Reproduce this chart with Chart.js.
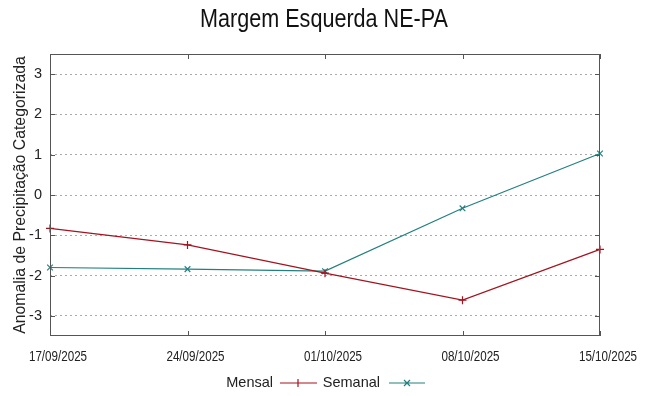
<!DOCTYPE html>
<html lang="pt">
<head>
  <meta charset="UTF-8" />
  <title>Margem Esquerda NE-PA</title>
  <script src="https://cdn.jsdelivr.net/npm/chart.js"></script>
  <style>
    body { margin: 0; background: #fff; }
    .wrap { width: 648px; height: 396px; }
  </style>
</head>
<body>
  <div class="wrap"><canvas id="chart" width="648" height="396"></canvas></div>
  <script>
    const titulo = "Margem Esquerda NE-PA";
    const datas = ["17/09/2025", "24/09/2025", "01/10/2025", "08/10/2025", "15/10/2025"];
    const mensal = [-0.83, -1.24, -1.94, -2.61, -1.35];
    const semanal = [-1.80, -1.84, -1.89, -0.33, 1.03];
    const yTicks = [-3, -2, -1, 0, 1, 2, 3];

    const corMensal = "#a3141e";
    const corSemanal = "#23807f";
    const fonte = "'Liberation Sans', Arial, sans-serif";

    // texto estreito (fonte condensada nao instalada): escala horizontal
    function textoEstreito(c, txt, x, y, px, fator) {
      c.save();
      c.font = px + "px " + fonte;
      c.translate(x, y);
      c.scale(fator, 1);
      c.fillText(txt, 0, 0);
      c.restore();
    }

    // titulo, rotulos do eixo x, moldura, marcas internas e legenda no estilo gnuplot
    const moldura = {
      id: "moldura",
      afterDraw(chart) {
        const c = chart.ctx;
        const a = chart.chartArea;
        const sx = chart.scales.x;
        c.save();
        c.fillStyle = "#111";
        c.textAlign = "center";
        c.textBaseline = "middle";
        textoEstreito(c, titulo, 324, 20, 26, 0.83);

        c.fillStyle = "#222";
        datas.forEach((d, i) => {
          textoEstreito(c, d, sx.getPixelForTick(i) + 8, 357, 14, 0.83);
        });

        c.strokeStyle = "#555";
        c.lineWidth = 1;
        c.strokeRect(a.left + 0.5, a.top + 0.5, a.right - a.left - 1, a.bottom - a.top - 1);
        c.beginPath();
        datas.forEach((d, i) => {
          const x = Math.round(sx.getPixelForTick(i)) + 0.5;
          c.moveTo(x, a.bottom); c.lineTo(x, a.bottom - 5);
          c.moveTo(x, a.top); c.lineTo(x, a.top + 5);
        });
        yTicks.forEach(v => {
          const y = Math.round(chart.scales.y.getPixelForValue(v)) + 0.5;
          c.moveTo(a.left, y); c.lineTo(a.left + 5, y);
          c.moveTo(a.right, y); c.lineTo(a.right - 5, y);
        });
        c.stroke();

        // legenda
        const y = 383;
        c.font = "14.5px " + fonte;
        c.fillStyle = "#222";
        c.textAlign = "right";
        c.fillText("Mensal", 273, y);
        c.fillText("Semanal", 380, y);
        c.lineWidth = 1.2;
        c.strokeStyle = corMensal;
        c.beginPath();
        c.moveTo(280, y); c.lineTo(317, y);
        c.moveTo(298, y - 4); c.lineTo(298, y + 4);
        c.stroke();
        c.strokeStyle = corSemanal;
        c.beginPath();
        c.moveTo(389, y); c.lineTo(425, y);
        c.moveTo(404, y - 3); c.lineTo(410, y + 3);
        c.moveTo(404, y + 3); c.lineTo(410, y - 3);
        c.stroke();
        c.restore();
      }
    };

    new Chart(document.getElementById("chart"), {
      type: "line",
      data: {
        labels: datas,
        datasets: [
          {
            label: "Mensal",
            data: mensal,
            borderColor: corMensal,
            backgroundColor: corMensal,
            borderWidth: 1.2,
            pointStyle: "cross",
            pointRadius: 4,
            pointBorderWidth: 1.2,
            tension: 0,
          },
          {
            label: "Semanal",
            data: semanal,
            borderColor: corSemanal,
            backgroundColor: corSemanal,
            borderWidth: 1.2,
            pointStyle: "crossRot",
            pointRadius: 4,
            pointBorderWidth: 1.2,
            tension: 0,
          },
        ],
      },
      options: {
        responsive: false,
        animation: false,
        layout: { padding: { left: 11, right: 48, top: 54, bottom: 0 } },
        plugins: {
          legend: { display: false },
          tooltip: { enabled: false },
          title: { display: false },
        },
        scales: {
          x: {
            type: "category",
            offset: false,
            grid: { display: false },
            border: { display: false },
            ticks: { display: false, autoSkip: false },
            afterFit(scale) { scale.height = 60; },
          },
          y: {
            min: -3.5,
            max: 3.5,
            afterBuildTicks(scale) { scale.ticks = yTicks.map(v => ({ value: v })); },
            grid: {
              color: "#aaa",
              lineWidth: 1,
              drawTicks: false,
            },
            border: { display: false, dash: [2, 3] },
            ticks: {
              color: "#222",
              font: { family: fonte, size: 14.5 },
              padding: 8,
            },
            title: {
              display: true,
              text: "Anomalia de Precipitação Categorizada",
              color: "#222",
              font: { family: fonte, size: 15.8 },
              padding: { top: 0, bottom: 0 },
            },
            afterFit(scale) { scale.width = 39; },
          },
        },
      },
      plugins: [moldura],
    });
  </script>
</body>
</html>
